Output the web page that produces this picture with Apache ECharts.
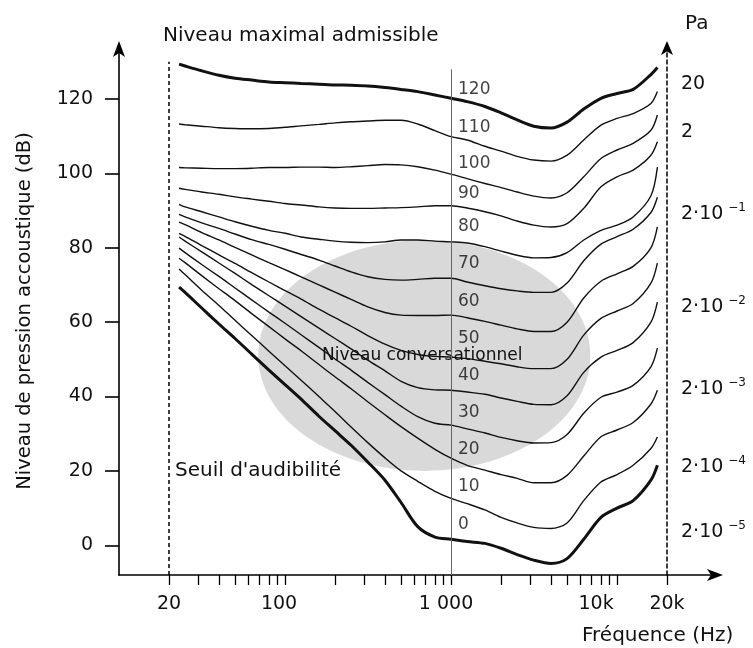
<!DOCTYPE html>
<html><head><meta charset="utf-8">
<script src="https://cdn.jsdelivr.net/npm/echarts@6/dist/echarts.min.js"></script>
<style>html,body{margin:0;padding:0;background:#fff}#c{width:753px;height:648px}</style>
</head><body><div id="c"></div>
<script>
// ---- data ----
const freqs = [23, 25, 31.5, 40, 50, 63, 80, 100, 125, 160, 200, 250, 315, 400, 500, 630, 800, 1000, 1250, 1600, 2000, 2500, 3150, 4000, 5000, 6300, 8000, 10000, 12500, 16000, 17500];
const phonLevels = [120, 110, 100, 90, 80, 70, 60, 50, 40, 30, 20, 10, 0];
const phon120 = [129.4, 128.9, 127.6, 126.4, 125.6, 125.1, 124.6, 124.4, 124.2, 124, 123.8, 123.7, 123.5, 123.1, 122.6, 122, 121.1, 120.2, 119.3, 118, 116.3, 114.4, 112.7, 112.2, 113.8, 117.3, 120.2, 121.5, 122.6, 126.6, 128.5];
const phon110 = [113.3, 113.1, 112.7, 112.3, 112.1, 112, 112.1, 112.4, 112.8, 113.2, 113.6, 113.9, 114.1, 114.3, 114.3, 113.3, 111.5, 109.9, 109, 107.3, 106, 104.6, 103.6, 103.3, 104.9, 109, 113, 114.8, 116.1, 118.8, 122];
const phon100 = [101.6, 101.5, 101.4, 101.3, 101.3, 101.4, 101.6, 101.6, 101.7, 101.7, 101.6, 101.8, 102.1, 102.4, 102.3, 101.8, 100.9, 99.8, 98.6, 97.3, 96.2, 95, 93.9, 93.4, 94.8, 99.1, 104, 106.3, 108.1, 111.6, 115.7];
const phon90 = [96, 95.7, 95, 94.4, 93.7, 93.1, 92.5, 91.9, 91.5, 91, 90.7, 90.6, 90.6, 90.7, 90.8, 91, 91.3, 91.3, 90.7, 89.7, 88.6, 87.2, 86.1, 85.6, 86.5, 90.6, 96.4, 99.1, 100.9, 104.9, 108.5];
const phon80 = [91.7, 91, 89.7, 88.3, 87, 85.8, 84.7, 83.9, 82.9, 82.3, 81.8, 81.5, 81.4, 81.6, 82.1, 82.1, 81.8, 81.6, 81.3, 80.3, 79.1, 78, 77.3, 77.4, 78.7, 82.1, 84.7, 86.1, 88.3, 94, 101.7];
const phon70 = [89, 88.3, 86.7, 85.2, 83.7, 82.2, 80.9, 79.6, 78.2, 76.7, 75.1, 73.5, 72.2, 71.5, 71.3, 71.5, 71.8, 71.8, 70.8, 69.8, 69, 68.4, 68, 68, 70.5, 76.5, 81, 83, 85, 89.5, 93.6];
const phon60 = [86.9, 86.2, 84.1, 82.1, 80.1, 78.1, 76, 74.1, 72.2, 70, 68.1, 66.1, 64.1, 62.6, 61.9, 61.8, 61.8, 61.9, 61.2, 60.2, 59.2, 58.2, 57.5, 57.5, 60, 66.5, 71, 73, 75, 80, 85.6];
const phon50 = [83.9, 83.1, 80.6, 78.1, 75.8, 73.3, 70.8, 68.5, 66.2, 63.5, 61.2, 58.9, 56.4, 54.1, 52.4, 51.3, 50.8, 50.6, 50.2, 49.5, 48.8, 48, 47.5, 47.5, 50, 56.5, 61, 63, 65, 70.5, 75.9];
const phon40 = [82.9, 81.8, 78.9, 75.9, 73.1, 70.1, 67.1, 64.3, 61.5, 58.4, 55.6, 52.8, 49.8, 46.9, 44.1, 42.4, 41.8, 41.7, 41.2, 40.6, 39.6, 38.7, 37.9, 37.8, 40.2, 46.5, 50.6, 52.4, 54.5, 60, 65.4];
const phon30 = [79.9, 78.7, 75.5, 72.3, 69.2, 66, 62.7, 59.7, 56.6, 53.2, 50.1, 47.1, 43.8, 40.5, 37.4, 34.6, 32.8, 32.3, 31.3, 30.2, 29, 28.1, 27.5, 27.6, 29.8, 35.5, 39.8, 41.2, 43, 48, 53];
const phon20 = [77.2, 76, 72.5, 69, 65.8, 62.3, 58.8, 55.5, 52.3, 48.6, 45.3, 42.1, 38.6, 35.1, 31.9, 28.8, 25.8, 23.4, 21.5, 20.2, 19, 18, 16.8, 16.8, 18.8, 24, 29.2, 31, 33, 38, 41.7];
const phon10 = [74.3, 72.8, 68.6, 64.5, 60.5, 56.4, 52.2, 48.3, 44.4, 40, 36, 31.8, 27.6, 23.5, 20, 17.2, 14.5, 12.6, 11.2, 9.5, 7.5, 6, 4.8, 4.5, 6, 12, 17, 19, 21.5, 26, 29.1];
const phon0 = [69.4, 68, 63.8, 59.5, 55.6, 51.4, 47.1, 43.2, 39.3, 34.7, 30.8, 26.9, 22.4, 17.5, 11.5, 5, 2.2, 1.6, 1, 0.5, -0.8, -2.5, -4, -4.9, -3.6, 1.6, 7.5, 10, 12, 17.5, 21.5];

const xTickValues = [20, 30, 40, 50, 60, 70, 80, 90, 100, 200, 300, 400, 500, 600, 700, 800, 900, 1000, 2000, 3000, 4000, 5000, 6000, 7000, 8000, 9000, 10000, 20000];
const xLabelValues = [20, 100, 1000, 10000, 20000];
const xLabelTexts = ['20', '100', '1 000', '10k', '20k'];
const yTickValues = [0, 20, 40, 60, 80, 100, 120];
const paLabelLevels = [124, 111, 89, 64, 42, 21, 3.5];
const paLabelTexts = ['20', '2', '2·10^−1', '2·10^−2', '2·10^−3', '2·10^−4', '2·10^−5'];
const speechArea = [69, 20, 6900, 82]; // fMin, dBMin, fMax, dBMax
const markerFreqs = [20, 1000];
const markerTops = [130, 128];

// ---- chart ----
const FONT = 'DejaVu Sans';
const curves = [phon120, phon110, phon100, phon90, phon80, phon70, phon60, phon50, phon40, phon30, phon20, phon10, phon0];
const chart = echarts.init(document.getElementById('c'), null, {renderer: 'canvas'});

const curveSeries = phonLevels.map((lvl, i) => ({
  type: 'line', name: 'phon' + lvl,
  data: freqs.map((f, j) => [f, curves[i][j]]),
  symbol: 'none', showSymbol: false, smooth: 0.3, silent: true, z: 3,
  lineStyle: {color: '#111', width: (lvl === 120 || lvl === 0) ? 3 : 1.4}
}));

function labelOffset(lvl) { return lvl >= 110 ? -9 : (lvl === 100 ? -10 : (lvl === 90 ? -17 : -21)); }
const xLabelRich = {
  l0: {fontFamily: FONT, fontSize: 19, color: '#111'},
  l1: {fontFamily: FONT, fontSize: 19, color: '#111', padding: [0, 12, 0, 0]},
  l2: {fontFamily: FONT, fontSize: 19, color: '#111', padding: [0, 10, 0, 0]},
  l3: {fontFamily: FONT, fontSize: 19, color: '#111', padding: [0, 42, 0, 0]},
  l4: {fontFamily: FONT, fontSize: 19, color: '#111'}
};

const option = {
  animation: false,
  backgroundColor: '#fff',
  grid: {left: 119, right: 36, top: 47, bottom: 73, containLabel: false, outerBoundsMode: 'none'},
  xAxis: {
    type: 'log', logBase: 10, min: 10, max: 40000,
    axisLine: {show: true, onZero: false, symbol: ['none', 'arrow'], symbolSize: [9, 16], symbolOffset: [0, 6], lineStyle: {color: '#000', width: 1.6}},
    axisTick: {show: true, customValues: xTickValues, length: 10, lineStyle: {color: '#000', width: 1.3}},
    axisLabel: {show: true, customValues: xLabelValues, margin: 20, fontFamily: FONT, fontSize: 19, color: '#111',
      formatter: v => { const i = xLabelValues.findIndex(x => Math.abs(x - v) / x < 1e-6); return i >= 0 ? '{l' + i + '|' + xLabelTexts[i] + '}' : ''; },
      rich: xLabelRich},
    splitLine: {show: false}, minorTick: {show: false}, minorSplitLine: {show: false}
  },
  yAxis: [{
    type: 'value', min: -8, max: 134, position: 'left',
    axisLine: {show: true, onZero: false, symbol: ['none', 'arrow'], symbolSize: [9, 16], symbolOffset: [0, 6], lineStyle: {color: '#000', width: 1.6}},
    axisTick: {show: true, customValues: yTickValues, length: 14, lineStyle: {color: '#000', width: 1.6}},
    axisLabel: {show: true, customValues: yTickValues, margin: 26, fontFamily: FONT, fontSize: 19, color: '#111'},
    splitLine: {show: false},
    name: 'Niveau de pression accoustique (dB)', nameLocation: 'middle', nameGap: 84,
    nameTextStyle: {fontFamily: FONT, fontSize: 19.5, color: '#111'}
  }, {
    type: 'value', min: -8, max: 134, position: 'right', offset: -50,
    axisLine: {show: true, onZero: false, symbol: ['none', 'arrow'], symbolSize: [9, 14], symbolOffset: [0, 6], lineStyle: {color: '#000', width: 1.5, type: [4, 3]}},
    axisTick: {show: false},
    axisLabel: {show: true, customValues: paLabelLevels, margin: 14, align: 'left', color: '#111',
      fontFamily: FONT, fontSize: 19,
      formatter: v => {
        const i = paLabelLevels.findIndex(x => Math.abs(x - v) < 1e-6);
        if (i < 0) return '';
        const parts = paLabelTexts[i].split('^');
        return parts.length > 1 ? '{b|' + parts[0] + '}{s|' + parts[1] + '}' : '{b|' + parts[0] + '}';
      },
      rich: {
        b: {fontFamily: FONT, fontSize: 19, color: '#111'},
        s: {fontFamily: FONT, fontSize: 12, color: '#111', padding: [0, 0, 12, 5]}
      }
    },
    splitLine: {show: false}
  }],
  series: [
    {
      type: 'custom', name: 'speech', silent: true, z: 1,
      data: [speechArea],
      renderItem: (params, api) => {
        const p1 = api.coord([api.value(0), api.value(1)]);
        const p2 = api.coord([api.value(2), api.value(3)]);
        return {
          type: 'ellipse',
          shape: {cx: (p1[0] + p2[0]) / 2, cy: (p1[1] + p2[1]) / 2, rx: Math.abs(p2[0] - p1[0]) / 2, ry: Math.abs(p2[1] - p1[1]) / 2},
          style: {fill: 'rgba(140,140,140,0.33)'}
        };
      }
    },
    {
      type: 'line', name: 'markers', data: [], silent: true, z: 2,
      markLine: {
        silent: true, symbol: 'none', label: {show: false}, animation: false,
        data: [
          [{coord: [markerFreqs[0], -8], lineStyle: {color: '#000', width: 1.5, type: [4, 3]}}, {coord: [markerFreqs[0], markerTops[0]]}],
          [{coord: [markerFreqs[1], -8], lineStyle: {color: '#666', width: 1, type: 'solid'}}, {coord: [markerFreqs[1], markerTops[1]]}]
        ]
      }
    },
    ...curveSeries,
    {
      type: 'scatter', name: 'curveLabels', silent: true, z: 4, symbolSize: 0,
      data: phonLevels.map(l => ({value: [1000, l], label: {offset: [0, labelOffset(l)]}})),
      label: {show: true, position: 'right', distance: 7, formatter: p => String(p.value[1]),
        fontFamily: FONT, fontSize: 17, color: '#111'}
    }
  ],
  graphic: [
    {type: 'text', left: 163, top: 26, style: {text: 'Niveau maximal admissible', font: '20px "DejaVu Sans"', fill: '#111'}},
    {type: 'text', left: 685, top: 14, style: {text: 'Pa', font: '20px "DejaVu Sans"', fill: '#111'}},
    {type: 'text', left: 582, top: 626, style: {text: 'Fréquence (Hz)', font: '20px "DejaVu Sans"', fill: '#111'}},
    {type: 'text', left: 175, top: 461, z: 5, style: {text: "Seuil d'audibilité", font: '20px "DejaVu Sans"', fill: '#111'}},
    {type: 'text', left: 322, top: 347, z: 5, style: {text: 'Niveau conversationnel', font: '17px "DejaVu Sans"', fill: '#111'}}
  ]
};
chart.setOption(option);
</script>
</body></html>
